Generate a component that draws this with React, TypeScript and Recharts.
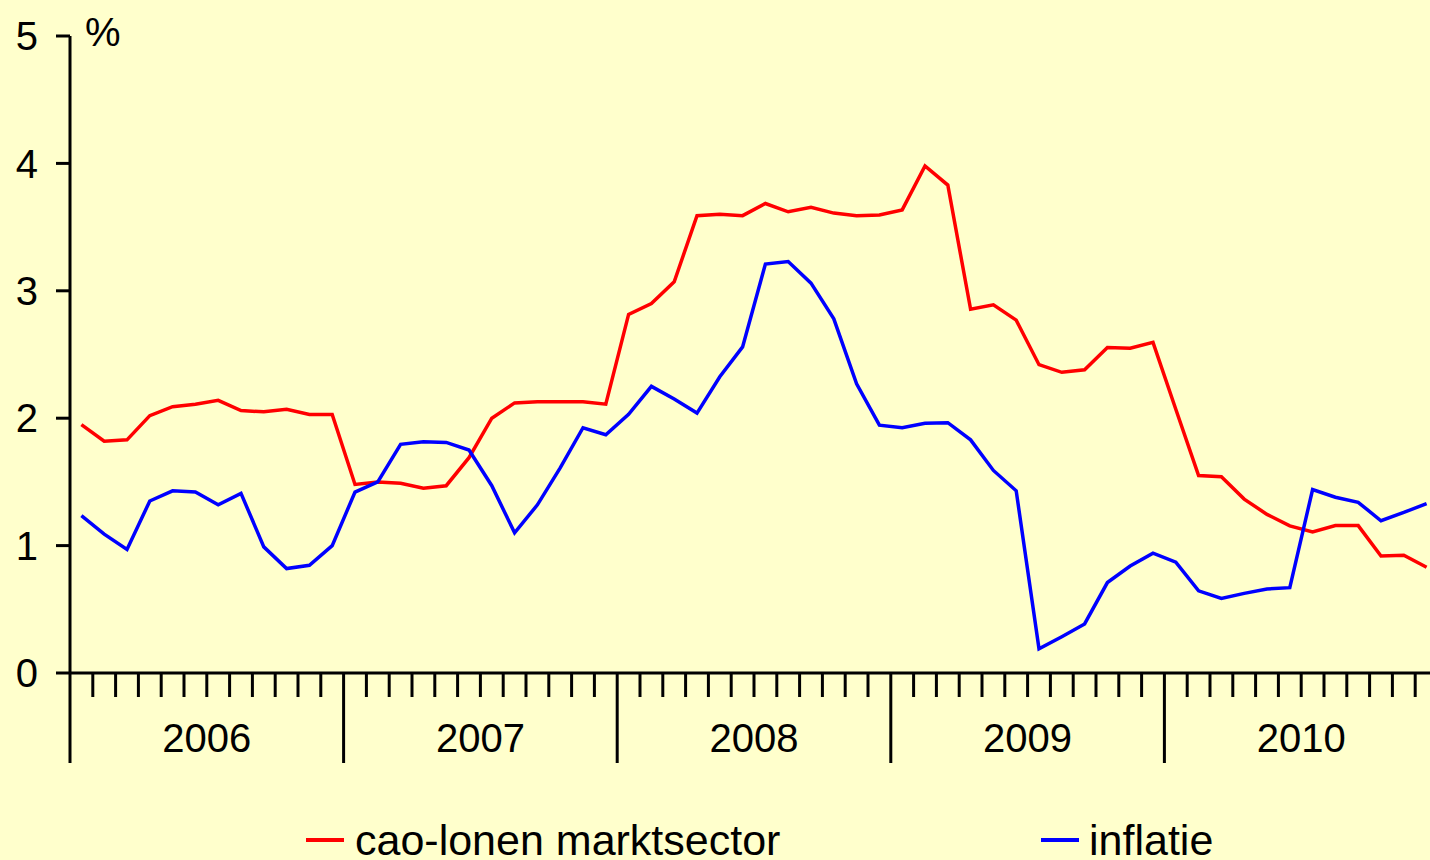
import { LineChart, Line, XAxis, YAxis } from 'recharts';

// monthly, jan 2006 - dec 2010
const years = ['2006', '2007', '2008', '2009', '2010'];
const monthsPerYear = 12;

const caoLonen = [
  1.95, 1.82, 1.83, 2.02, 2.09, 2.11, 2.14, 2.06, 2.05, 2.07, 2.03, 2.03,
  1.48, 1.5, 1.49, 1.45, 1.47, 1.69, 2.0, 2.12, 2.13, 2.13, 2.13, 2.11,
  2.815, 2.9, 3.07, 3.59, 3.6, 3.59, 3.685, 3.62, 3.655, 3.61, 3.59, 3.595,
  3.635, 3.98, 3.83, 2.855, 2.89, 2.77, 2.42, 2.36, 2.38, 2.555, 2.55, 2.595,
  2.07, 1.55, 1.54, 1.365, 1.245, 1.155, 1.107, 1.157, 1.157, 0.918, 0.924, 0.83,
];

const inflatie = [
  1.235, 1.09, 0.97, 1.35, 1.43, 1.42, 1.32, 1.41, 0.99, 0.82, 0.845, 1.0,
  1.42, 1.5, 1.795, 1.815, 1.81, 1.75, 1.47, 1.1, 1.32, 1.61, 1.925, 1.87,
  2.03, 2.25, 2.15, 2.04, 2.325, 2.56, 3.21, 3.23, 3.06, 2.78, 2.27, 1.945,
  1.925, 1.96, 1.965, 1.83, 1.59, 1.43, 0.19, 0.285, 0.385, 0.71, 0.84, 0.94,
  0.87, 0.645, 0.585, 0.625, 0.66, 0.67, 1.44, 1.38, 1.34, 1.195, 1.26, 1.33,
];

const yTicks = [0, 1, 2, 3, 4, 5];

const seriesNames = { cao: 'cao-lonen marktsector', infl: 'inflatie' };

const totalMonths = years.length * monthsPerYear;
const monthTicks = Array.from({ length: totalMonths + 1 }, (_, i) => i);

// points sit in the middle of each month
const chartData = caoLonen.map((v, i) => ({
  x: i + 0.5,
  cao: v,
  infl: inflatie[i],
}));

const FONT = '"Liberation Sans", Arial, Helvetica, sans-serif';

const MonthTick = (props: any) => {
  const { x, y, payload } = props;
  const m = payload.value as number;
  const isYear = m % monthsPerYear === 0;
  const mid = m % monthsPerYear === 6 ? years[Math.floor(m / monthsPerYear)] : null;
  return (
    <g>
      <line x1={x} x2={x} y1={y} y2={y + (isYear ? 90 : 24)} stroke="#000" strokeWidth={3} />
      {mid && (
        <text x={x} y={y + 79} textAnchor="middle" fontSize={40} fontFamily={FONT} fill="#000">
          {mid}
        </text>
      )}
    </g>
  );
};

export default function App() {
  return (
    <div
      style={{
        position: 'absolute',
        left: 0,
        top: 0,
        width: 1430,
        height: 860,
        overflow: 'hidden',
        background: '#FFFFCC',
      }}
    >
      <LineChart
        width={1440}
        height={860}
        data={chartData}
        margin={{ top: 36, right: 2, left: 0, bottom: 0 }}
      >
        <XAxis
          dataKey="x"
          type="number"
          domain={[0, totalMonths]}
          ticks={monthTicks}
          interval={0}
          height={187}
          tickSize={0}
          tickMargin={0}
          tickLine={false}
          axisLine={{ stroke: '#000', strokeWidth: 3 }}
          tick={<MonthTick />}
        />
        <YAxis
          type="number"
          domain={[0, 5]}
          ticks={yTicks}
          interval={0}
          width={70}
          tickSize={14}
          tickMargin={18}
          tickLine={{ stroke: '#000', strokeWidth: 3 }}
          axisLine={{ stroke: '#000', strokeWidth: 3 }}
          tick={{ fill: '#000', fontSize: 40, fontFamily: FONT }}
        />
        <Line
          type="linear"
          dataKey="cao"
          name={seriesNames.cao}
          stroke="#FF0000"
          strokeWidth={3.5}
          dot={false}
          isAnimationActive={false}
        />
        <Line
          type="linear"
          dataKey="infl"
          name={seriesNames.infl}
          stroke="#0000FF"
          strokeWidth={3.5}
          dot={false}
          isAnimationActive={false}
        />
      </LineChart>

      <svg
        width={1430}
        height={860}
        style={{ position: 'absolute', left: 0, top: 0, pointerEvents: 'none' }}
      >
        <text x={85} y={46} fontSize={40} fontFamily={FONT} fill="#000">
          %
        </text>
        <line x1={306} x2={344} y1={840} y2={840} stroke="#FF0000" strokeWidth={4} />
        <text x={355} y={855} fontSize={43} fontFamily={FONT} fill="#000">
          {seriesNames.cao}
        </text>
        <line x1={1041} x2={1079} y1={840} y2={840} stroke="#0000FF" strokeWidth={4} />
        <text x={1089} y={855} fontSize={43} fontFamily={FONT} fill="#000">
          {seriesNames.infl}
        </text>
      </svg>
    </div>
  );
}
